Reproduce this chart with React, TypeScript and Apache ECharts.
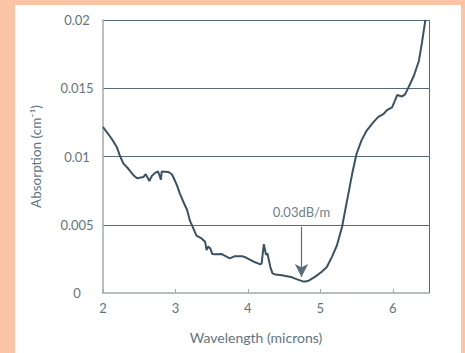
import React, { useEffect, useRef } from "react";
import * as echarts from "echarts";

const wavelength = [
  2.0, 2.05, 2.12, 2.19, 2.23, 2.28, 2.35, 2.42, 2.47, 2.56, 2.59, 2.64, 2.67, 2.72, 2.76, 2.8, 2.81, 2.9, 2.95, 2.97,
  3.02, 3.06, 3.11, 3.16, 3.2, 3.25, 3.29, 3.36, 3.41, 3.43, 3.45, 3.48, 3.51, 3.55, 3.64, 3.75, 3.82, 3.92, 3.98,
  4.08, 4.14, 4.17, 4.19, 4.22, 4.25, 4.27, 4.31, 4.34, 4.38, 4.47, 4.61, 4.68, 4.77, 4.84, 4.93,
  5.02, 5.09, 5.16, 5.23, 5.3, 5.37, 5.44, 5.5, 5.57, 5.64, 5.73, 5.8, 5.87, 5.92, 5.99,
  6.03, 6.06, 6.13, 6.17, 6.22, 6.29, 6.36, 6.4, 6.45,
];
const absorption = [
  0.01216, 0.0118, 0.0113, 0.0107, 0.0101, 0.0095, 0.0091, 0.00863, 0.0084, 0.0085, 0.0087, 0.0082, 0.00855, 0.0088, 0.0089, 0.0083, 0.0089, 0.00887, 0.0087, 0.0085,
  0.0079, 0.0073, 0.00667, 0.0061, 0.0053, 0.0047, 0.0042, 0.004, 0.00375, 0.00314, 0.0034, 0.00327, 0.00285, 0.00283, 0.00285, 0.00254, 0.0027, 0.0027, 0.00258,
  0.00229, 0.00217, 0.0021, 0.00217, 0.00358, 0.0028, 0.0029, 0.0019, 0.00144, 0.00135, 0.0013, 0.00115, 0.001, 0.00083, 0.0009, 0.0012,
  0.00156, 0.0019, 0.00265, 0.0035, 0.00485, 0.0068, 0.00875, 0.0102, 0.0112, 0.0119, 0.0125, 0.0129, 0.0131, 0.0134, 0.0136,
  0.0141, 0.0145, 0.0144, 0.01455, 0.0151, 0.0159, 0.017, 0.01825, 0.02,
];
const xTicks = [2, 3, 4, 5, 6];
const annotationX = 4.74;
const arrowFrom = 0.00485;
const arrowTo = 0.00117;
const annotationTextY = 0.0059;
const annotationText = "0.03dB/m";

const FONT = "Lato, 'Open Sans', sans-serif";
const TEXT = "#627482";
const DARK = "#3b5262";
const GRID = "#566a79";
const AXIS = "#a4a8ab";

export default function App() {
  const ref = useRef<HTMLDivElement>(null);
  useEffect(() => {
    if (!ref.current) return;
    const chart = echarts.init(ref.current, undefined, { renderer: "svg" });
    const data = wavelength.map((x, i) => [x, absorption[i]]);
    chart.setOption({
      animation: false,
      textStyle: { fontFamily: FONT },
      grid: { left: 103, right: 36, top: 20, bottom: 60 },
      xAxis: {
        type: "value",
        min: 2,
        max: 6.5,
        interval: 1,
        name: "Wavelength (microns)",
        nameLocation: "middle",
        nameGap: 37,
        nameTextStyle: { color: TEXT, fontSize: 14, fontFamily: FONT, padding: [0, 20, 0, 0] },
        axisLine: { show: true, lineStyle: { color: AXIS, width: 1.5 } },
        axisTick: { show: true, inside: true, length: 4, customValues: xTicks, lineStyle: { color: AXIS } },
        axisLabel: { color: TEXT, fontSize: 13, margin: 8, customValues: xTicks, fontFamily: FONT },
        splitLine: { show: false },
      },
      yAxis: {
        type: "value",
        min: 0,
        max: 0.02,
        interval: 0.005,
        name: "Absorption (cm\u207B\u00B9)",
        nameLocation: "middle",
        nameGap: 60,
        nameTextStyle: { color: TEXT, fontSize: 13.5, fontFamily: FONT },
        axisLine: { show: true, lineStyle: { color: AXIS, width: 1.5 } },
        axisTick: { show: false },
        axisLabel: { color: TEXT, fontSize: 13, align: "center", margin: 26, fontFamily: FONT },
        splitLine: { show: true, showMinLine: false, lineStyle: { color: GRID, width: 1 } },
      },
      series: [
        {
          type: "line",
          data,
          showSymbol: false,
          symbol: "none",
          clip: true,
          lineStyle: { color: DARK, width: 2 },
          z: 3,
          markLine: {
            silent: true,
            symbol: ["none", "none"],
            label: { show: false },
            lineStyle: { color: GRID, width: 1, type: "solid" },
            data: [[{ coord: [6.5, 0] }, { coord: [6.5, 0.02] }]],
          },
        },
        {
          type: "line",
          data: [],
          markLine: {
            silent: true,
            symbol: ["none", "arrow"],
            symbolSize: [10, 13],
            label: { show: false },
            lineStyle: { color: "#5a6d7b", width: 1.2, type: "solid" },
            itemStyle: { color: DARK },
            data: [[{ coord: [annotationX, arrowFrom] }, { coord: [annotationX, arrowTo] }]],
          },
          markPoint: {
            silent: true,
            symbol: "circle",
            symbolSize: 0,
            label: {
              show: true,
              formatter: annotationText,
              color: "#6f808d",
              fontSize: 13,
              fontFamily: FONT,
              position: "inside",
            },
            data: [{ coord: [annotationX, annotationTextY] }],
          },
        },
      ],
    });
    return () => chart.dispose();
  }, []);
  return (
    <div style={{ position: "fixed", left: 0, top: 0, width: 465, height: 353, background: "#fbc5a5", overflow: "hidden" }}>
      <div style={{ position: "absolute", left: 15, top: 5, width: 446, height: 360, background: "#ffffff" }} />
      <div ref={ref} style={{ position: "absolute", left: 0, top: 0, width: 465, height: 353 }} />
    </div>
  );
}
